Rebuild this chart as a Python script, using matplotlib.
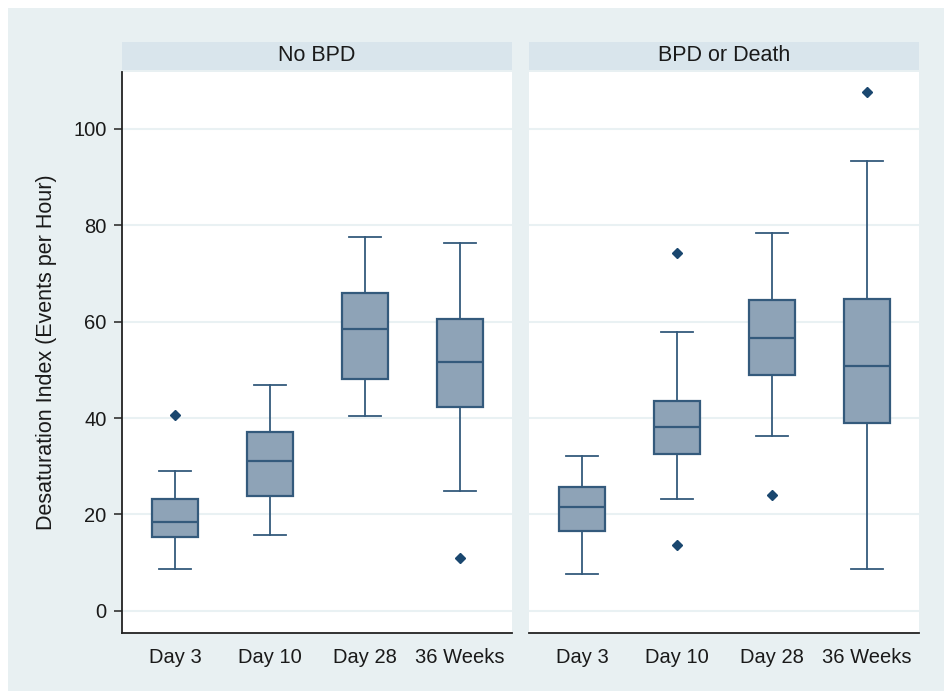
import matplotlib
matplotlib.use("Agg")
import matplotlib.pyplot as plt
from matplotlib.patches import Rectangle

plt.rcParams['font.family'] = ['Liberation Sans', 'DejaVu Sans']

categories = ['Day 3', 'Day 10', 'Day 28', '36 Weeks']
panels = ['No BPD', 'BPD or Death']

# five-number summaries: low whisker, Q1, median, Q3, high whisker
no_bpd_low = [8.7, 15.8, 40.5, 24.9]
no_bpd_q1 = [15.4, 23.9, 48.1, 42.3]
no_bpd_med = [18.5, 31.1, 58.5, 51.7]
no_bpd_q3 = [23.2, 37.1, 66.0, 60.6]
no_bpd_high = [29.0, 46.9, 77.6, 76.3]
no_bpd_out = [[40.7], [], [], [11.0]]

bpd_low = [7.7, 23.2, 36.3, 8.7]
bpd_q1 = [16.6, 32.6, 49.0, 39.0]
bpd_med = [21.6, 38.2, 56.6, 50.8]
bpd_q3 = [25.7, 43.6, 64.5, 64.7]
bpd_high = [32.2, 57.9, 78.4, 93.4]
bpd_out = [[], [74.3, 13.7], [24.1], [107.7]]

yticks = [0, 20, 40, 60, 80, 100]

BG = '#e8f0f2'
STRIP = '#d9e5ec'
FILL = '#8ea3b7'
EDGE = '#345a7c'
DOT = '#1a476f'
TXT = '#1a1a1a'


def make_stats(low, q1, med, q3, high, out):
    stats = []
    for i in range(len(low)):
        stats.append(dict(whislo=low[i], q1=q1[i], med=med[i], q3=q3[i],
                          whishi=high[i], fliers=out[i]))
    return stats


fig = plt.figure(figsize=(9.45, 6.91), dpi=100, facecolor='white')
fig.patches.append(Rectangle((8 / 945, 0), 1, 1 - 8 / 691, transform=fig.transFigure,
                             facecolor=BG, edgecolor='none', zorder=-10))

data = [make_stats(no_bpd_low, no_bpd_q1, no_bpd_med, no_bpd_q3, no_bpd_high, no_bpd_out),
        make_stats(bpd_low, bpd_q1, bpd_med, bpd_q3, bpd_high, bpd_out)]

lefts = [122 / 945, 529 / 945]
for k, left in enumerate(lefts):
    ax = fig.add_axes([left, 58 / 691, 390 / 945, 561 / 691])
    ax.set_facecolor('white')
    pos = list(range(1, len(categories) + 1))
    ax.bxp(data[k], positions=pos, widths=0.48, capwidths=0.34, patch_artist=True,
           boxprops=dict(facecolor=FILL, edgecolor=EDGE, linewidth=1.6),
           medianprops=dict(color=EDGE, linewidth=1.6),
           whiskerprops=dict(color=EDGE, linewidth=1.3),
           capprops=dict(color=EDGE, linewidth=1.3),
           flierprops=dict(marker='D', markersize=5, markerfacecolor=DOT,
                           markeredgecolor=DOT))
    ax.set_xlim(1 - 53 / 95, 4 + 52 / 95)
    ax.set_ylim(-4.6, 111.8)
    ax.set_yticks(yticks)
    ax.set_xticks(pos)
    ax.set_xticklabels(categories, fontsize=14.5, color=TXT)
    ax.tick_params(axis='x', length=0, pad=11)
    ax.yaxis.grid(True, color='#e9f1f3', linewidth=1.5)
    ax.set_axisbelow(True)
    for s in ['top', 'right']:
        ax.spines[s].set_visible(False)
    ax.spines['bottom'].set_color('#222222')
    ax.spines['bottom'].set_linewidth(1.3)
    if k == 0:
        ax.spines['left'].set_color('#222222')
        ax.spines['left'].set_linewidth(1.3)
        ax.tick_params(axis='y', length=6, width=1.1, color='#222222',
                       labelsize=14.5, labelcolor=TXT, pad=5)
        ax.set_ylabel('Desaturation Index (Events per Hour)', fontsize=15.5,
                      color=TXT, labelpad=12)
    else:
        ax.spines['left'].set_visible(False)
        ax.tick_params(axis='y', length=0, labelleft=False)
    # panel header strip
    ax.add_patch(Rectangle((0, 1.004), 1, 0.05, transform=ax.transAxes,
                           facecolor=STRIP, edgecolor='none', clip_on=False))
    ax.text(0.5, 1.029, panels[k], transform=ax.transAxes, ha='center', va='center',
            fontsize=15.5, color=TXT)

fig.savefig('out.png', dpi=100, facecolor=fig.get_facecolor())
